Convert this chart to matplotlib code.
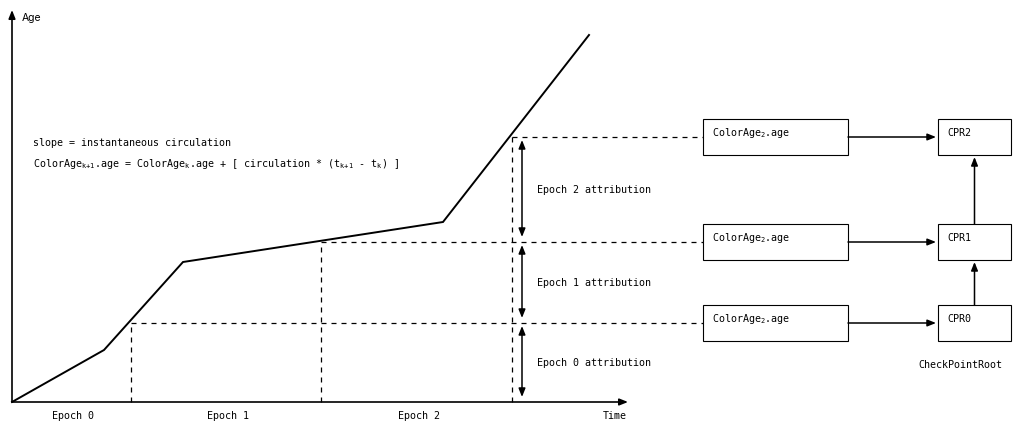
import numpy as np
import matplotlib.pyplot as plt
from matplotlib.patches import Rectangle

plt.rcParams['mathtext.fontset'] = 'custom'
plt.rcParams['mathtext.rm'] = 'DejaVu Sans Mono'
plt.rcParams['mathtext.it'] = 'DejaVu Sans Mono'

# age curve (time, age) in arbitrary units
curve_t = [0, 9.2, 17.1, 43.1, 57.7]
curve_age = [0, 5.2, 14.0, 18.0, 36.7]

# epoch boundaries and the age reached there
epoch_t = [11.9, 30.9, 50.0]
epoch_age = [7.9, 16.0, 26.5]
epoch_labels = ['Epoch 0', 'Epoch 1', 'Epoch 2']
attr_labels = ['Epoch 0 attribution', 'Epoch 1 attribution', 'Epoch 2 attribution']

box_labels = [r'ColorAge$_2$.age', r'ColorAge$_2$.age', r'ColorAge$_2$.age']
cpr_labels = ['CPR0', 'CPR1', 'CPR2']

mono = 'DejaVu Sans Mono'
fs = 7.2
lc = 'black'
head = '-|>,head_length=0.5,head_width=0.2'

fig = plt.figure(figsize=(10.24, 4.34), dpi=100)
ax = fig.add_axes([0, 0, 1, 1])
ax.set_xlim(-1.2, 101.2)
ax.set_ylim(-3.2, 40.2)
ax.axis('off')

# axes arrows
ax.annotate('', xy=(61.6, 0), xytext=(0, 0),
            arrowprops=dict(arrowstyle=head, color=lc, lw=1.2, shrinkA=0, shrinkB=0))
ax.annotate('', xy=(0, 39.2), xytext=(0, 0),
            arrowprops=dict(arrowstyle=head, color=lc, lw=1.2, shrinkA=0, shrinkB=0))
ax.text(1.0, 38.4, 'Age', fontsize=7.5, family='Inter', va='center', ha='left')
ax.text(61.5, -1.4, 'Time', fontsize=fs, family=mono, va='center', ha='right')

# curve
ax.plot(curve_t, curve_age, color=lc, lw=1.4, solid_joinstyle='miter')

# epoch dashed lines
bounds = [0] + epoch_t
for i, (t, a) in enumerate(zip(epoch_t, epoch_age)):
    ax.plot([t, t], [0, a], color=lc, lw=0.9, ls=(0, (4, 4)))
    ax.plot([t, 69.1], [a, a], color=lc, lw=0.9, ls=(0, (4, 4)))
    ax.text((bounds[i] + bounds[i + 1]) / 2 + 0.2, -1.4, epoch_labels[i], fontsize=fs,
            family=mono, ha='center', va='center')

# attribution double arrows
lows = [0] + epoch_age[:-1]
for i, (lo, hi) in enumerate(zip(lows, epoch_age)):
    ax.annotate('', xy=(51.0, lo + 0.5), xytext=(51.0, hi - 0.3),
                arrowprops=dict(arrowstyle='<|-|>,head_length=0.5,head_width=0.2', color=lc, lw=1.1,
                                shrinkA=0, shrinkB=0))
    ax.text(52.5, (lo + hi) / 2, attr_labels[i], fontsize=fs, family=mono, ha='left', va='center')

# formulas
ax.text(2.1, 25.9, 'slope = instantaneous circulation', fontsize=fs, family=mono, va='center')
ax.text(2.1, 23.8, r'ColorAge$_{k{+}1}$.age = ColorAge$_k$.age + [ circulation * (t$_{k{+}1}$ - t$_k$) ]',
        fontsize=fs, family=mono, va='center')

# boxes
bh = 1.8
for i, a in enumerate(epoch_age):
    ax.add_patch(Rectangle((69.1, a - bh), 14.5, 2 * bh, fill=False, ec=lc, lw=0.8))
    ax.text(70.0, a + 0.4, box_labels[i], fontsize=fs, family=mono, va='center')
    ax.add_patch(Rectangle((92.6, a - bh), 7.3, 2 * bh, fill=False, ec=lc, lw=0.8))
    ax.text(93.5, a + 0.4, cpr_labels[i], fontsize=fs, family=mono, va='center')
    ax.annotate('', xy=(92.4, a), xytext=(83.6, a),
                arrowprops=dict(arrowstyle=head, color=lc, lw=1.1, shrinkA=0, shrinkB=0))
for lo, hi in zip(epoch_age[:-1], epoch_age[1:]):
    ax.annotate('', xy=(96.25, hi - bh - 0.2), xytext=(96.25, lo + bh),
                arrowprops=dict(arrowstyle=head, color=lc, lw=1.1, shrinkA=0, shrinkB=0))
ax.text(94.8, 3.7, 'CheckPointRoot', fontsize=fs, family=mono, ha='center', va='center')

fig.savefig('out.png', dpi=100)
